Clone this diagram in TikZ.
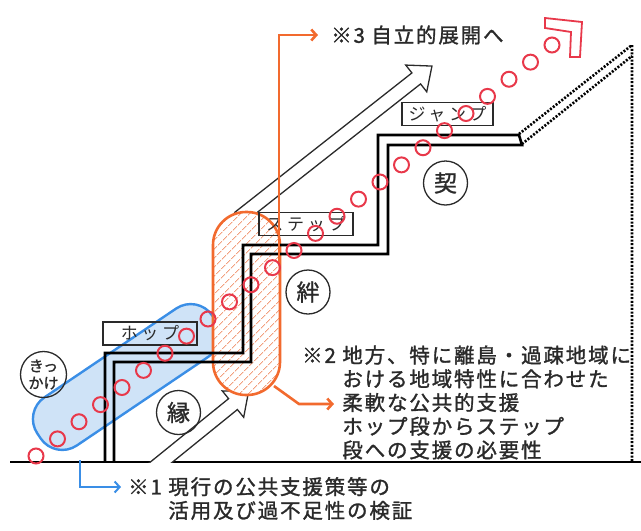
\documentclass[tikz,border=0pt]{standalone}
\usepackage{fontspec}
\setmainfont{Noto Sans CJK JP}[FakeBold=1.2]
\newfontfamily\notefont[LetterSpace=9,FakeBold=1.4]{Noto Sans CJK JP}
\newfontfamily\boxfont[LetterSpace=22]{Noto Sans CJK JP}
\usepackage{tikz}
\usetikzlibrary{arrows.meta,patterns.meta}

\definecolor{enblue}{HTML}{3A8EE6}
\definecolor{enfill}{HTML}{CFE3F7}
\definecolor{kizunaorange}{HTML}{F26A2E}
\definecolor{hatch}{HTML}{F2A07F}
\definecolor{dotred}{HTML}{E8384A}
\definecolor{ink}{HTML}{2A2A2A}

\begin{document}
\begin{tikzpicture}[x=1pt,y=-1pt,line join=miter,
                    >={Straight Barb[length=5pt,width=11pt]}]
  \tikzstyle{stair}=[line width=2.6pt,black]
  \tikzstyle{ramp}=[line width=2.6pt,dash pattern=on 2pt off 1.6pt]
  \tikzstyle{hollow}=[draw=ink,line width=1.3pt,fill=white]
  \tikzstyle{label box}=[draw=ink,line width=1.2pt,minimum width=94pt,
                         minimum height=23pt,inner sep=0pt,text=ink,
                         font=\boxfont\fontsize{17}{17}\selectfont]
  \tikzstyle{bond}=[draw=ink,circle,line width=1.3pt,minimum size=44pt,
                    inner sep=0pt,text=ink,font=\fontsize{23}{23}\selectfont]
  \tikzstyle{dot}=[draw=dotred,circle,line width=2pt,minimum size=15pt,
                   inner sep=0pt]
  \tikzstyle{note}=[inner sep=0pt,text=ink,align=left,
                    font=\notefont\fontsize{20.5}{23.7}\selectfont]
  \tikzstyle{blue link}=[enblue,line width=2pt]
  \tikzstyle{orange link}=[kizunaorange,line width=2.6pt]

  \useasboundingbox (0,0) rectangle (641,531);

  % ground
  \draw[line width=2.6pt] (10,462) -- (641,462);

  % hollow arrows
  \begin{scope}
    \clip (0,0) rectangle (641,462);
    \draw[hollow] [shift={(161.5,462)},rotate=39]
      (-14,-7) -- (92,-7) -- (92,-17) -- (112,0) -- (92,17) -- (92,7) -- (-14,7);
  \end{scope}
  \draw[hollow] [shift={(246.5,212)},rotate=38.2]
    (-10,-7) -- (216,-7) -- (216,-17) -- (236,0) -- (216,17) -- (216,7) -- (-10,7);

  % zones
  \node[draw=enblue,fill=enfill,line width=2.4pt,rounded corners=26pt,
        minimum width=211pt,minimum height=58pt,rotate=34]
        (hopzone) at (126.5,377) {};
  \node[draw=kizunaorange,line width=2.6pt,rounded corners=33pt,
        preaction={fill=white},
        pattern={Lines[angle=45,distance=6.5pt,line width=1.1pt]},pattern color=hatch,
        minimum width=67pt,minimum height=183pt]
        (stepzone) at (246.5,303.5) {};

  % stairs
  \draw[stair] (105,462) |- (243,353) |- (378,245) |- (519,135) -- (522,145)
               -| (388,254) -| (251,362) -| (114,462);
  \draw[ramp] (519,134) -- (632,45) -- (632,462);
  \draw[ramp] (522,144) -- (632,56);

  % step labels
  \node[label box] (hop)  at (150,333.5) {ホップ};
  \node[label box] (step) at (306,224)   {ステップ};
  \node[label box,minimum width=91pt] (jump) at (447.5,114) {ジャンプ};

  \node[bond] (en)     at (178.5,412.5) {縁};
  \node[bond] (kizuna) at (308,292)     {絆};
  \node[bond] (kei)    at (445.5,183)   {契};
  \node[bond,minimum size=46pt,align=center,
        font=\fontsize{15}{17}\selectfont] (kikkake) at (43.5,374.5) {きっ\\かけ};

  % notes
  \node[note,anchor=west] (note3) at (331,35) {※3 自立的展開へ};
  \node[note,anchor=west] (note2) at (302,402.5)
    {※2 地方、特に離島・過疎地域に\\
     \phantom{※2 }おける地域特性に合わせた\\
     \phantom{※2 }柔軟な公共的支援\\
     \phantom{※2 }ホップ段からステップ\\
     \phantom{※2 }段への支援の必要性};
  \node[note,anchor=west] (note1) at (128,498.5)
    {※1 現行の公共支援策等の\\
     \phantom{※1 }活用及び過不足性の検証};

  % links
  \coordinate (hopfoot)   at (80,460);
  \coordinate (note1tip)  at (121,487);
  \coordinate (stepfoot)  at (274,386);
  \coordinate (stepknee)  at (299,404);
  \coordinate (note2tip)  at (334,404);
  \coordinate (steptop)   at (279,262);
  \coordinate (note3tip)  at (318,35);
  \draw[blue link,->] (hopfoot) |- (note1tip);
  \draw[orange link,->] (stepfoot) -- (stepknee) -- (note2tip);
  \draw[orange link,->] (steptop) |- (note3tip);

  % dotted path of progress
  \foreach \i in {0,...,24}
    \node[dot] (dot\i) at ({36+21.5*\i},{456-17.125*\i}) {};
  \draw[dotred,line width=1.8pt,fill=white]
    (545,18) -- (582,22) -- (580,57) -- (570,57) -- (571,32) -- (545,28) -- cycle;
\end{tikzpicture}
\end{document}
